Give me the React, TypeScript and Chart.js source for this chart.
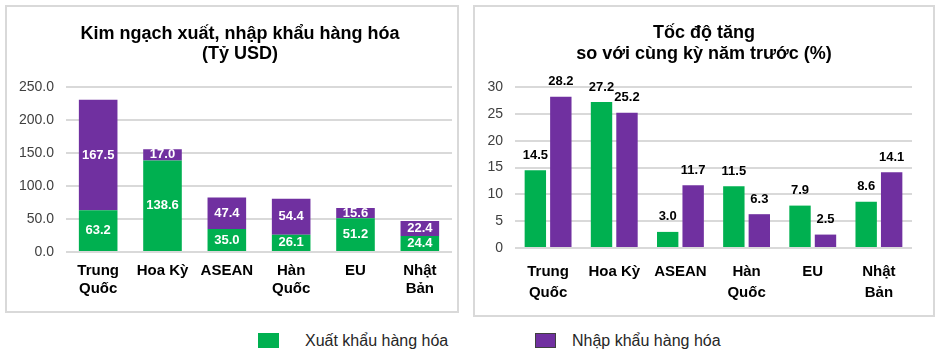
import React, { useEffect, useRef } from "react";
import { Chart, registerables } from "chart.js";

Chart.register(...registerables);

const categories: string[][] = [
  ["Trung", "Quốc"],
  ["Hoa Kỳ"],
  ["ASEAN"],
  ["Hàn", "Quốc"],
  ["EU"],
  ["Nhật", "Bản"],
];

const exportValues = [63.2, 138.6, 35.0, 26.1, 51.2, 24.4];
const importValues = [167.5, 17.0, 47.4, 54.4, 15.6, 22.4];

const exportGrowth = [14.5, 27.2, 3.0, 11.5, 7.9, 8.6];
const importGrowth = [28.2, 25.2, 11.7, 6.3, 2.5, 14.1];

const seriesNames = ["Xuất khẩu hàng hóa", "Nhập khẩu hàng hóa"];
const leftTitle = ["Kim ngạch xuất, nhập khẩu hàng hóa", "(Tỷ USD)"];
const rightTitle = ["Tốc độ tăng", "so với cùng kỳ năm trước (%)"];

const GREEN = "#00B050";
const PURPLE = "#7030A0";
const GRID = "#d9d9d9";
const FONT = '"Liberation Sans", Arial, sans-serif';

const valueLabels = {
  id: "valueLabels",
  afterDatasetsDraw(chart: any, _args: any, opts: any) {
    const ctx = chart.ctx;
    ctx.save();
    ctx.font = `bold 13px ${FONT}`;
    ctx.textAlign = "center";
    ctx.textBaseline = "middle";
    chart.data.datasets.forEach((ds: any, di: number) => {
      const meta = chart.getDatasetMeta(di);
      meta.data.forEach((bar: any, i: number) => {
        const v = ds.data[i] as number;
        const text = v.toFixed(1);
        const p = bar.getProps(["x", "y", "base"], true);
        if (opts.mode === "inside") {
          ctx.fillStyle = "#ffffff";
          ctx.fillText(text, p.x, (p.y + p.base) / 2);
        } else {
          ctx.fillStyle = "#000000";
          ctx.fillText(text, p.x, p.y - opts.offset);
        }
      });
    });
    ctx.restore();
  },
};

const panelTitle = {
  id: "panelTitle",
  afterDraw(chart: any, _args: any, opts: any) {
    const ctx = chart.ctx;
    ctx.save();
    ctx.font = `bold 18px ${FONT}`;
    ctx.textAlign = "center";
    ctx.textBaseline = "alphabetic";
    ctx.fillStyle = "#000";
    (opts.lines as string[]).forEach((t, i) => {
      ctx.fillText(t, opts.x, opts.y + i * opts.gap);
    });
    ctx.restore();
  },
};

export default function App() {
  const leftRef = useRef<HTMLCanvasElement>(null);
  const rightRef = useRef<HTMLCanvasElement>(null);

  useEffect(() => {
    Chart.defaults.font.family = FONT;
    const c1 = new Chart(leftRef.current as HTMLCanvasElement, {
      type: "bar",
      data: {
        labels: categories,
        datasets: [
          { label: seriesNames[0], data: exportValues, backgroundColor: GREEN, barPercentage: 0.6, categoryPercentage: 1 },
          { label: seriesNames[1], data: importValues, backgroundColor: PURPLE, barPercentage: 0.6, categoryPercentage: 1 },
        ],
      },
      options: {
        responsive: false,
        animation: false,
        layout: { padding: { left: 0, right: 5, top: 80, bottom: 0 } },
        plugins: {
          legend: { display: false },
          tooltip: { enabled: false },
          title: { display: false },
          valueLabels: { mode: "inside" },
          panelTitle: { lines: leftTitle, x: 233, y: 31.5, gap: 20.7 },
        } as any,
        scales: {
          x: {
            stacked: true,
            grid: { display: false, drawTicks: false },
            border: { display: false },
            ticks: { color: "#000", font: { size: 15, weight: "bold", lineHeight: 1.2 }, padding: 10, maxRotation: 0 },
            afterFit: (s: any) => { s.height = 59; },
          },
          y: {
            stacked: true,
            min: 0,
            max: 250,
            grid: { color: GRID, lineWidth: 2, drawTicks: false },
            border: { display: false },
            ticks: {
              stepSize: 50,
              color: "#404040",
              font: { size: 14 },
              padding: 12,
              callback: (v: any) => Number(v).toFixed(1),
            },
            afterFit: (s: any) => { s.width = 59; },
          },
        },
      },
      plugins: [valueLabels, panelTitle],
    });

    const c2 = new Chart(rightRef.current as HTMLCanvasElement, {
      type: "bar",
      data: {
        labels: categories,
        datasets: [
          { label: seriesNames[0], data: exportGrowth, backgroundColor: GREEN, barPercentage: 0.84, categoryPercentage: 0.77 },
          { label: seriesNames[1], data: importGrowth, backgroundColor: PURPLE, barPercentage: 0.84, categoryPercentage: 0.77 },
        ],
      },
      options: {
        responsive: false,
        animation: false,
        layout: { padding: { left: 0, right: 21, top: 80, bottom: 0 } },
        plugins: {
          legend: { display: false },
          tooltip: { enabled: false },
          title: { display: false },
          valueLabels: { mode: "top", offset: 15 },
          panelTitle: { lines: rightTitle, x: 229, y: 31, gap: 21 },
        } as any,
        scales: {
          x: {
            grid: { display: false, drawTicks: false },
            border: { display: false },
            ticks: { color: "#000", font: { size: 15, weight: "bold", lineHeight: 1.43 }, padding: 13, maxRotation: 0 },
            afterFit: (s: any) => { s.height = 67; },
          },
          y: {
            min: 0,
            max: 30,
            grid: { color: GRID, lineWidth: 2, drawTicks: false },
            border: { display: false },
            ticks: { stepSize: 5, color: "#404040", font: { size: 14 }, padding: 12 },
            afterFit: (s: any) => { s.width = 40; },
          },
        },
      },
      plugins: [valueLabels, panelTitle],
    });

    return () => {
      c1.destroy();
      c2.destroy();
    };
  }, []);

  const legendText: React.CSSProperties = {
    position: "absolute",
    top: 333,
    fontFamily: FONT,
    fontSize: 16,
    lineHeight: "15px",
    color: "#262626",
    whiteSpace: "nowrap",
  };

  return (
    <div style={{ position: "fixed", left: 0, top: 0, width: 938, height: 352, background: "#fff", overflow: "hidden" }}>
      <div style={{ position: "absolute", left: 5, top: 5, width: 450, height: 304, border: `2px solid ${GRID}` }}>
        <canvas ref={leftRef} width={450} height={304} style={{ display: "block", width: 450, height: 304 }} />
      </div>
      <div style={{ position: "absolute", left: 473, top: 5, width: 458, height: 308, border: `2px solid ${GRID}` }}>
        <canvas ref={rightRef} width={458} height={308} style={{ display: "block", width: 458, height: 308 }} />
      </div>
      <div style={{ position: "absolute", left: 258, top: 333, width: 21, height: 15, background: GREEN }} />
      <div style={{ ...legendText, left: 305 }}>{seriesNames[0]}</div>
      <div style={{ position: "absolute", left: 535, top: 333, width: 21, height: 15, background: PURPLE, border: "1px solid #404040", boxSizing: "border-box" }} />
      <div style={{ ...legendText, left: 572 }}>{seriesNames[1]}</div>
    </div>
  );
}
